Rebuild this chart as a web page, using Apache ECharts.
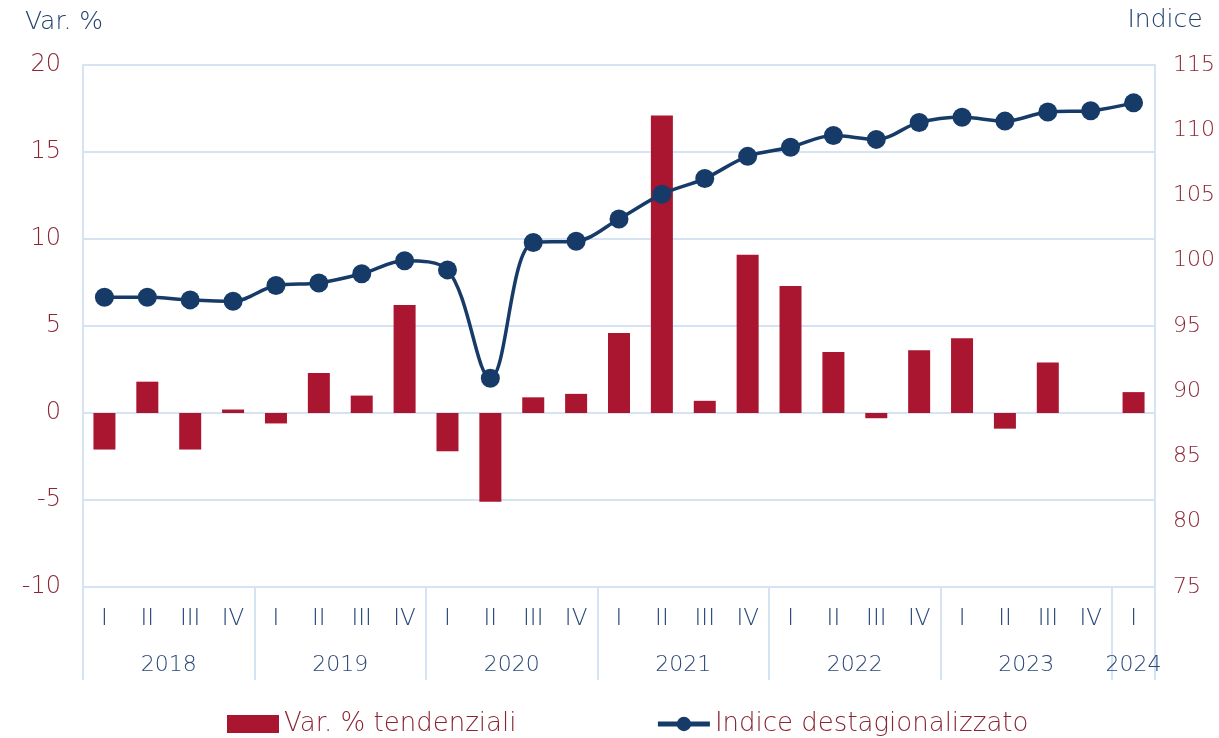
<!DOCTYPE html>
<html>
<head>
<meta charset="utf-8">
<script src="https://cdn.jsdelivr.net/npm/echarts@6/dist/echarts.min.js"></script>
<style>
  html, body { margin: 0; padding: 0; background: #fff; }
  #chart { width: 1219px; height: 738px; }
</style>
</head>
<body>
<div id="chart"></div>
<script>
// ===== 数据 =====
var quarters = ['I','II','III','IV','I','II','III','IV','I','II','III','IV','I','II','III','IV','I','II','III','IV','I','II','III','IV','I'];
var quarterYears = ['2018','2018','2018','2018','2019','2019','2019','2019','2020','2020','2020','2020',
  '2021','2021','2021','2021','2022','2022','2022','2022','2023','2023','2023','2023','2024'];
var varTendenziali = [-2.1, 1.8, -2.1, 0.2, -0.6, 2.3, 1.0, 6.2, -2.2, -5.1, 0.9, 1.1,
  4.6, 17.1, 0.7, 9.1, 7.3, 3.5, -0.3, 3.6, 4.3, -0.9, 2.9, 0.0, 1.2];
var indiceDest = [97.2, 97.2, 97.0, 96.9, 98.1, 98.3, 99.0, 100.0, 99.3, 91.0, 101.4, 101.5,
  103.2, 105.1, 106.3, 108.0, 108.7, 109.6, 109.3, 110.6, 111.0, 110.7, 111.4, 111.5, 112.1];

// 年份分组：边界与中心
var yearBounds = [0];
var yearCenters = [];
var yearNames = [];
var start = 0;
for (var i = 1; i <= quarterYears.length; i++) {
  if (i === quarterYears.length || quarterYears[i] !== quarterYears[i - 1]) {
    yearBounds.push(i);
    yearCenters.push((start + i) / 2);
    yearNames.push(quarterYears[start]);
    start = i;
  }
}

var FONT = 'DejaVu Sans';
var W = 200;
var gridColor = '#d5e3f3';
var redText = '#8a2534';
var blueText = '#294878';

var chart = echarts.init(document.getElementById('chart'));

var option = {
  backgroundColor: '#fff',
  animation: false,
  grid: { left: 83, right: 64, top: 65, bottom: 151, outerBoundsMode: 'none', containLabel: false },
  legend: {
    top: 706,
    left: 222,
    itemWidth: 52,
    itemHeight: 18,
    itemGap: 139,
    textStyle: { fontFamily: FONT, fontWeight: W, fontSize: 26, color: redText },
    data: [
      { name: 'Var. % tendenziali', icon: 'rect' },
      { name: 'Indice destagionalizzato', lineStyle: { width: 5 } }
    ]
  },
  xAxis: [
    {
      type: 'category',
      data: quarters,
      axisLine: { show: true, lineStyle: { color: gridColor, width: 2 } },
      axisTick: { show: false },
      axisLabel: { fontFamily: FONT, fontWeight: W, fontSize: 23, color: blueText, margin: 21 }
    },
    {
      type: 'value',
      min: 0,
      max: quarters.length,
      position: 'bottom',
      axisLine: { show: false },
      splitLine: { show: false },
      axisTick: {
        show: true,
        customValues: yearBounds,
        length: 93,
        lineStyle: { color: gridColor, width: 2 }
      },
      axisLabel: {
        customValues: yearCenters,
        fontFamily: FONT, fontWeight: W, fontSize: 22, color: blueText, margin: 67,
        formatter: function (v) {
          var k = yearCenters.indexOf(v);
          return k >= 0 ? yearNames[k] : '';
        }
      }
    }
  ],
  yAxis: [
    {
      type: 'value',
      min: -10, max: 20, interval: 5,
      name: 'Var. %',
      nameLocation: 'end',
      nameGap: 30,
      nameTextStyle: { fontFamily: FONT, fontWeight: W, fontSize: 25, color: '#1f3f6e', padding: [0, 38, 0, 0] },
      axisLine: { show: true, lineStyle: { color: gridColor, width: 2 } },
      axisTick: { show: false },
      splitLine: { lineStyle: { color: gridColor, width: 2 } },
      axisLabel: { fontFamily: FONT, fontWeight: W, fontSize: 24, color: redText, margin: 22 }
    },
    {
      type: 'value',
      min: 75, max: 115, interval: 5,
      name: 'Indice',
      nameLocation: 'end',
      nameGap: 32,
      nameTextStyle: { fontFamily: FONT, fontWeight: W, fontSize: 25, color: '#1f3f6e', padding: [0, 0, 0, 20] },
      axisLine: { show: true, lineStyle: { color: gridColor, width: 2 } },
      axisTick: { show: false },
      splitLine: { show: false },
      axisLabel: { fontFamily: FONT, fontWeight: W, fontSize: 22, color: redText, margin: 18 }
    }
  ],
  series: [
    {
      name: 'Var. % tendenziali',
      type: 'bar',
      data: varTendenziali,
      barWidth: 22,
      itemStyle: { color: '#aa152f' }
    },
    {
      name: 'Indice destagionalizzato',
      type: 'line',
      yAxisIndex: 1,
      data: indiceDest,
      smooth: 0.35,
      symbol: 'circle',
      symbolSize: 19,
      lineStyle: { color: '#173b69', width: 3.5 },
      itemStyle: { color: '#173b69' },
      z: 3
    }
  ]
};

chart.setOption(option);
</script>
</body>
</html>
